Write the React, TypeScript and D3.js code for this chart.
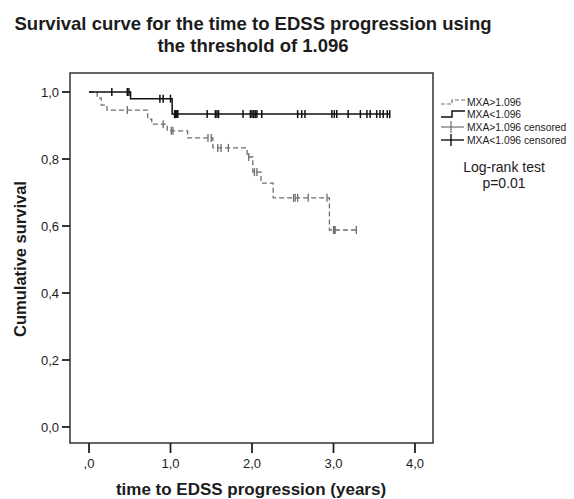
import React from 'react';
import * as d3 from 'd3';

// MXA > 1.096 (gray dashed): step times and survival levels
const timesHigh = [0, 0.1, 0.15, 0.22, 0.72, 0.77, 0.96, 1.21, 1.52, 1.94, 2.01, 2.11, 2.26, 2.95];
const survHigh = [1.0, 0.982, 0.961, 0.946, 0.919, 0.904, 0.884, 0.863, 0.833, 0.806, 0.761, 0.728, 0.684, 0.588];
const censorHigh = [0.47, 0.91, 1.01, 1.03, 1.46, 1.5, 1.58, 1.62, 1.71, 1.96, 2.03, 2.06, 2.51, 2.53, 2.56, 2.69, 2.92, 3.0, 3.01, 3.02, 3.28];

// MXA < 1.096 (black solid)
const timesLow = [0, 0.51, 1.02];
const survLow = [1.0, 0.98, 0.934];
const censorLow = [0.28, 0.47, 0.49, 0.87, 0.91, 1.0, 1.05, 1.06, 1.07, 1.08, 1.09, 1.45, 1.55, 1.57, 1.59, 1.89, 1.98, 2.0, 2.02, 2.04, 2.06, 2.12, 2.56, 2.61, 2.65, 2.98, 3.01, 3.04, 3.18, 3.33, 3.41, 3.45, 3.53, 3.57, 3.61, 3.66, 3.69];

const xTicks = [0, 1, 2, 3, 4];
const xTickLabels = [',0', '1,0', '2,0', '3,0', '4,0'];
const yTicks = [0, 0.2, 0.4, 0.6, 0.8, 1.0];
const yTickLabels = ['0,0', '0,2', '0,4', '0,6', '0,8', '1,0'];

const legendLabels = ['MXA>1.096', 'MXA<1.096', 'MXA>1.096 censored', 'MXA<1.096 censored'];

const FONT = '"Liberation Sans", Arial, sans-serif';
const GRAY = '#6e6e6e';
const INK = '#1c1c1c';

const x = d3.scaleLinear().domain([0, 4]).range([89, 415]);
const y = d3.scaleLinear().domain([0, 1]).range([427, 92]);

const levelAt = (times: number[], surv: number[], t: number) => {
  const i = d3.bisectRight(times, t) - 1;
  return surv[Math.max(0, i)];
};

const stepLine = d3
  .line<[number, number]>()
  .x((d) => x(d[0]))
  .y((d) => y(d[1]))
  .curve(d3.curveStepAfter);

const curvePath = (times: number[], surv: number[], censors: number[]) => {
  const end = d3.max(censors.concat(times)) as number;
  const pts: [number, number][] = times.map((t, i) => [t, surv[i]]);
  pts.push([end, surv[surv.length - 1]]);
  return stepLine(pts) || '';
};

const Censors = ({ times, surv, censors, color, w }: any) => (
  <g stroke={color} strokeWidth={w}>
    {censors.map((t: number, i: number) => {
      const cy = y(levelAt(times, surv, t));
      return <line key={i} x1={x(t)} x2={x(t)} y1={cy - 4} y2={cy + 4} />;
    })}
  </g>
);

export default function App() {
  const legendY = [102, 114, 127, 140];
  return (
    <svg width={574} height={499} style={{ position: 'absolute', left: 0, top: 0, background: '#fff' }}>
      <rect width={574} height={499} fill="#fff" />
      <text x={253} y={30} textAnchor="middle" fontFamily={FONT} fontSize={18.5} fontWeight="bold" fill={INK}>
        Survival curve for the time to EDSS progression using
      </text>
      <text x={253} y={52} textAnchor="middle" fontFamily={FONT} fontSize={18.5} fontWeight="bold" fill={INK}>
        the threshold of 1.096
      </text>

      <rect x={70} y={73} width={363} height={370} fill="none" stroke="#333" strokeWidth={1.5} />

      {yTicks.map((v, i) => (
        <g key={v}>
          <line x1={62} x2={70} y1={y(v)} y2={y(v)} stroke="#222" strokeWidth={1.8} />
          <text x={59} y={y(v) + 4.5} textAnchor="end" fontFamily={FONT} fontSize={13} fill={INK}>
            {yTickLabels[i]}
          </text>
        </g>
      ))}
      {xTicks.map((v, i) => (
        <g key={v}>
          <line x1={x(v)} x2={x(v)} y1={443} y2={453} stroke="#222" strokeWidth={1.8} />
          <text x={x(v)} y={468} textAnchor="middle" fontFamily={FONT} fontSize={13} fill={INK}>
            {xTickLabels[i]}
          </text>
        </g>
      ))}

      <text x={251} y={495} textAnchor="middle" fontFamily={FONT} fontSize={17} fontWeight="bold" fill={INK}>
        time to EDSS progression (years)
      </text>
      <text
        transform="translate(26,259) rotate(-90)"
        textAnchor="middle"
        fontFamily={FONT}
        fontSize={16.5}
        fontWeight="bold"
        fill={INK}
      >
        Cumulative survival
      </text>

      <path d={curvePath(timesHigh, survHigh, censorHigh)} fill="none" stroke={GRAY} strokeWidth={1.3} strokeDasharray="5,3" />
      <Censors times={timesHigh} surv={survHigh} censors={censorHigh} color={GRAY} w={1.3} />
      <path d={curvePath(timesLow, survLow, censorLow)} fill="none" stroke="#111" strokeWidth={1.5} />
      <Censors times={timesLow} surv={survLow} censors={censorLow} color="#111" w={1.5} />

      {/* legend */}
      <path d={`M441,${legendY[0] + 2}H452V${legendY[0] - 2}H465`} fill="none" stroke={GRAY} strokeWidth={1.2} strokeDasharray="4,2" />
      <path d={`M441,${legendY[1] + 3}H452V${legendY[1] - 3}H465`} fill="none" stroke="#111" strokeWidth={1.5} />
      <g stroke={GRAY} strokeWidth={1.2}>
        <line x1={441} x2={464} y1={legendY[2]} y2={legendY[2]} />
        <line x1={451} x2={451} y1={legendY[2] - 6} y2={legendY[2] + 6} />
      </g>
      <g stroke="#111" strokeWidth={1.4}>
        <line x1={441} x2={464} y1={legendY[3]} y2={legendY[3]} />
        <line x1={451} x2={451} y1={legendY[3] - 6} y2={legendY[3] + 6} />
      </g>
      {legendLabels.map((lab, i) => (
        <text key={i} x={467} y={legendY[i] + 3.5} fontFamily={FONT} fontSize={10.3} fill={INK}>
          {lab}
        </text>
      ))}

      <text x={504} y={172} textAnchor="middle" fontFamily={FONT} fontSize={14} fill={INK}>
        Log-rank test
      </text>
      <text x={504} y={188} textAnchor="middle" fontFamily={FONT} fontSize={14} fill={INK}>
        p=0.01
      </text>
    </svg>
  );
}
